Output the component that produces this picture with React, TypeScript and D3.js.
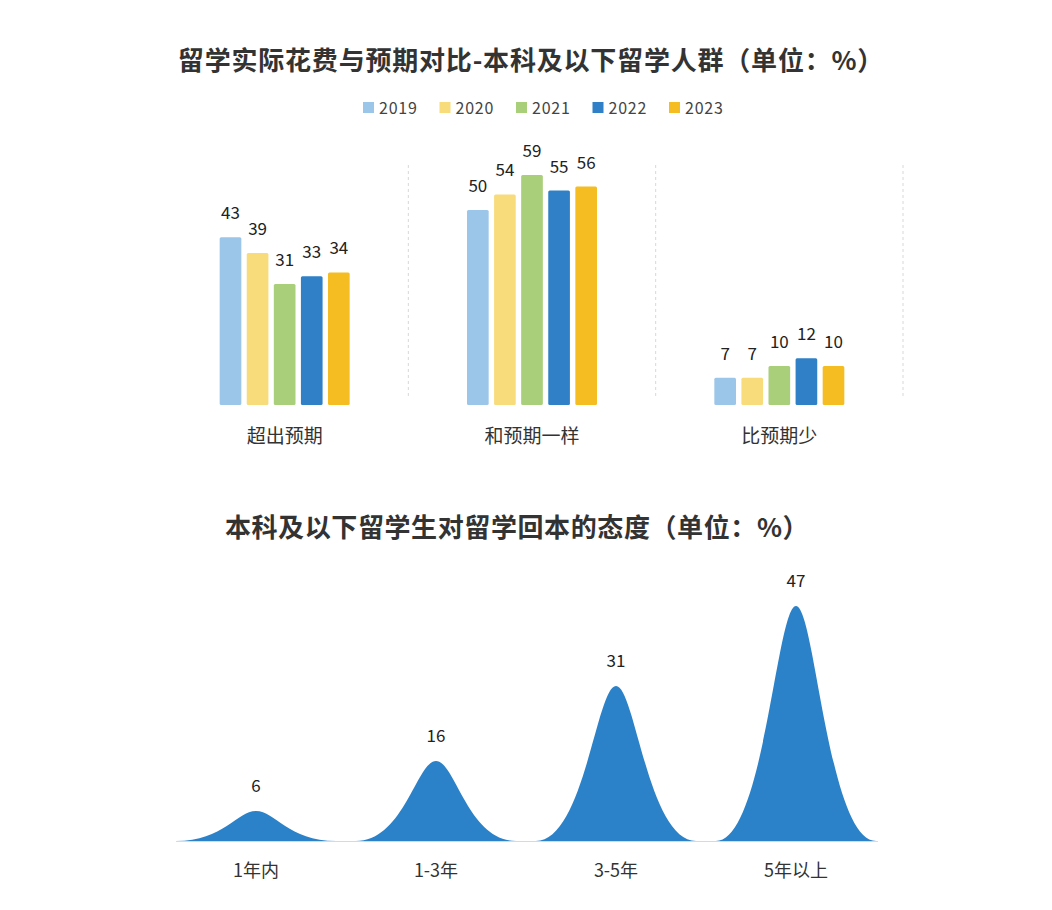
import React from "react";
import * as d3 from "d3";

const barCategories = ["超出预期", "和预期一样", "比预期少"];
const years = ["2019", "2020", "2021", "2022", "2023"];
const yearColors = ["#9cc6e9", "#f8dc7c", "#a9cf7a", "#2f80c6", "#f6bd22"];
const values2019 = [43, 50, 7];
const values2020 = [39, 54, 7];
const values2021 = [31, 59, 10];
const values2022 = [33, 55, 12];
const values2023 = [34, 56, 10];
const yearSeries = [values2019, values2020, values2021, values2022, values2023];

const peakCategories = ["1年内", "1-3年", "3-5年", "5年以上"];
const peakValues = [6, 16, 31, 47];

const title1 = "留学实际花费与预期对比-本科及以下留学人群（单位：%）";
const title2 = "本科及以下留学生对留学回本的态度（单位：%）";

const FONT = "'Noto Sans CJK SC', 'Noto Sans', sans-serif";

export default function App() {
  const W = 1052, H = 910;
  // bar chart
  const barBase = 405;
  const xGroup = d3.scaleBand<string>().domain(barCategories).range([161, 903]);
  const inner = 130;
  const xYear = d3.scaleBand<string>().domain(years).range([0, inner]).paddingInner(0.2);
  const yBar = d3.scaleLinear().domain([0, 100]).range([barBase, barBase - 390]);

  // peak chart
  const peakBase = 841;
  const xPeak = d3.scaleBand<string>().domain(peakCategories).range([166, 886]);
  const yPeak = d3.scaleLinear().domain([0, 100]).range([peakBase, peakBase - 500]);
  const peakW = xPeak.bandwidth() * 0.89;

  const peakPath = (cx: number, top: number) => {
    const p = d3.path();
    const x0 = cx - peakW / 2, x1 = cx + peakW / 2;
    p.moveTo(x0, peakBase);
    p.bezierCurveTo(cx - peakW * 0.2, peakBase, cx - peakW * 0.12, top, cx, top);
    p.bezierCurveTo(cx + peakW * 0.12, top, cx + peakW * 0.2, peakBase, x1, peakBase);
    p.closePath();
    return p.toString();
  };

  const legendX = d3.scalePoint<string>().domain(years).range([363, 669]);

  return (
    <svg width={W} height={H} style={{ position: "absolute", left: 0, top: 0, background: "#fff" }} fontFamily={FONT}>
      <rect x={0} y={0} width={W} height={H} fill="#fff" />
      <text x={531} y={70} textAnchor="middle" fontSize={26} letterSpacing={0.8} fontWeight="bold" fill="#333">{title1}</text>
      {years.map((yr, i) => (
        <g key={yr} transform={`translate(${legendX(yr)},0)`}>
          <rect x={0} y={102} width={11} height={11} fill={yearColors[i]} />
          <text x={16} y={114} fontSize={16} letterSpacing={0.8} fill="#444">{yr}</text>
        </g>
      ))}
      {xGroup.domain().map((c, gi) => {
        const bx = (xGroup(c) as number) + xGroup.bandwidth();
        return <line key={"sep" + gi} x1={bx} x2={bx} y1={165} y2={398} stroke="#d8d8d8" strokeDasharray="3,3" />;
      })}
      {barCategories.map((c, gi) => {
        const gx = (xGroup(c) as number) + (xGroup.bandwidth() - inner) / 2;
        return (
          <g key={c} transform={`translate(${gx},0)`}>
            {years.map((yr, i) => {
              const v = yearSeries[i][gi];
              const x = xYear(yr) as number;
              const y = yBar(v);
              return (
                <g key={yr}>
                  <rect x={x} y={y} width={xYear.bandwidth()} height={barBase - y} fill={yearColors[i]} rx={1.5} />
                  <text x={x + xYear.bandwidth() / 2} y={y - 18} textAnchor="middle" fontSize={17} fill="#222">{v}</text>
                </g>
              );
            })}
            <text x={inner / 2} y={443} textAnchor="middle" fontSize={19} fill="#333">{c}</text>
          </g>
        );
      })}

      <text x={517} y={537} textAnchor="middle" fontSize={26} letterSpacing={0.6} fontWeight="bold" fill="#333">{title2}</text>
      <line x1={176} x2={878} y1={peakBase + 0.5} y2={peakBase + 0.5} stroke="#d9d9d9" />
      {peakCategories.map((c, i) => {
        const cx = (xPeak(c) as number) + xPeak.bandwidth() / 2;
        const top = yPeak(peakValues[i]);
        return (
          <g key={c}>
            <path d={peakPath(cx, top)} fill="#2b82c9" />
            <text x={cx} y={top - 19} textAnchor="middle" fontSize={17} fill="#222">{peakValues[i]}</text>
            <text x={cx} y={877} textAnchor="middle" fontSize={18} fill="#333">{c}</text>
          </g>
        );
      })}
    </svg>
  );
}
